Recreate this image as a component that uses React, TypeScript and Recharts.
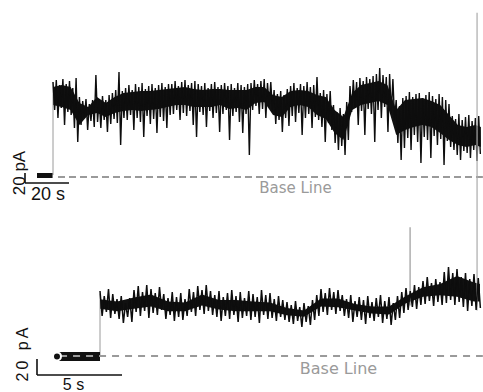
import React from 'react';
import { ComposedChart, Line, Area, XAxis, YAxis, ReferenceLine, ReferenceDot } from 'recharts';

// ---------- TOP TRACE (time in s, current in pA) ----------
// dense core of the current trace
const topCoreT = [0,4,8,12,16,20,24,28,32,36,40,44,48,52,56,60,64,68,72,76,80,84,88,92,96,100,104,108,112,116,120,124,128,132,136,140,144,148,152,156,160,164,168,172,176,180,184,188,192,194.5];
const topCoreHi = [180,184,180,148,140,160,148,160,168,170,172,172,174,176,178,180,176,174,176,176,174,174,174,180,180,164,160,172,174,172,164,160,134,120,168,184,188,192,184,134,154,156,158,152,144,124,104,100,104,100];
const topCoreLo = [144,140,134,104,124,128,120,128,132,134,132,134,136,140,144,144,140,140,140,144,136,138,134,148,150,124,120,140,144,140,124,116,88,74,134,144,148,152,144,84,94,100,104,100,88,74,64,60,64,60];

// noise extremes, sampled every 1.5 s (upper excursions) with lower excursions half-way between
const TOP_DT = 1.5;
const topUp = [190,194,184,196,186,192,178,198,160,152,156,146,154,204,156,162,154,164,168,174,210,172,178,184,174,186,180,188,176,182,186,178,184,188,180,186,186,192,182,190,194,184,188,192,186,182,188,178,186,190,180,184,188,182,186,178,188,184,180,186,188,194,186,192,196,188,190,174,166,172,164,176,182,188,178,186,182,190,180,184,200,168,174,166,172,144,130,138,126,150,182,194,190,198,192,200,196,202,206,218,204,200,206,196,154,142,158,162,170,160,166,168,158,164,170,162,156,166,160,154,146,122,116,126,114,120,124,112,118,122];
const topDown = [134,118,138,104,130,124,98,70,104,118,94,112,100,110,98,114,90,106,116,108,64,118,114,124,94,118,110,80,122,106,116,88,120,112,98,124,126,134,114,128,122,132,104,80,130,124,100,132,118,128,90,126,134,74,122,130,110,88,126,44,134,142,126,136,118,140,130,106,114,90,118,102,122,110,128,84,118,126,98,120,114,100,70,108,94,68,54,62,44,74,130,138,104,132,84,136,126,70,134,118,140,90,128,114,68,34,58,78,54,84,70,28,80,74,38,82,64,76,24,72,60,54,44,34,52,48,38,54,32,46];

const topPreT = [-7.27, -0.2];
const topPreV = [3, 3];
const topJumpT = [0, 0];
const topJumpV = [4, 190];

// ---------- BOTTOM TRACE ----------
const botCoreT = [0,1,2,3,4,5,6,7,8,9,10,11,12,13,14,15,16,17,18,19,20,21,22,22.35];
const botCoreHi = [71,68,73,77,68,67,77,70,70,68,67,60,57,72,72,65,62,62,75,86,90,100,92,90];
const botCoreLo = [59,56,59,62,56,56,63,58,56,56,56,51,49,62,61,57,53,52,66,74,76,74,68,68];

const BOT_DT = 0.25;
const botUp = [81.25,75,83.75,77.5,71.25,75,66.25,72.5,82.5,87.5,80,88.75,83.75,78.75,86.25,77.5,72.5,80,73.75,78.75,71.25,83.75,80,87.5,82.5,88.75,81.25,76.25,81.25,73.75,78.75,82.5,75,80,72.5,81.25,77.5,73.75,82.5,76.25,78.75,71.25,75,70,67.5,63.75,68.75,61.25,66.25,62.5,70,76.25,83.75,78.75,85,80,82.5,76.25,71.25,76.25,68.75,73.75,70,75,67.5,72.5,76.25,68.75,73.75,66.25,75,80,85,81.25,88.75,86.25,93.75,98.75,91.25,96.25,92.5,105,111.25,103.75,108.75,98.75,103.75,96.25,102.5,97.5];
const botDown = [50,55,47.5,52.5,46.25,41.25,48.75,42.5,55,50,56.25,47.5,53.75,51.25,57.5,46.25,51.25,43.75,48.75,45,50,55,50,57.5,52.5,56.25,51.25,48.75,43.75,50,46.25,51.25,42.5,47.5,50,45,48.75,41.25,51.25,46.25,47.5,43.75,48.75,45,42.5,40,43.75,36.25,42.5,38.75,45,50,55,51.25,57.5,52.5,56.25,50,47.5,42.5,48.75,45,40,47.5,43.75,48.75,41.25,46.25,38.75,45,47.5,53.75,57.5,61.25,58.75,63.75,65,68.75,62.5,67.5,63.75,66.25,70,63.75,67.5,61.25,56.25,62.5,57.5,60];

const botPreT = [-2.53, 0];
const botPreV = [-0.5, -0.5];
const botJumpT = [0, 0];
const botJumpV = [0, 78];
const spikeAT = [18.24, 18.24];
const spikeAV = [63, 161];
const spikeBT = [22.18, 22.18];
const spikeBV = [57, 429];

// ---------- helpers ----------
const W = 483;
const H = 392;
const TOP_X: [number, number] = [-24.0909, 195.4545];
const TOP_Y: [number, number] = [-430, 354];
const BOT_X: [number, number] = [-5.8824, 22.5294];
const BOT_Y: [number, number] = [-45, 445];

const pts = (t: number[], v: number[]) => t.map((x, i) => ({ t: x, v: v[i] }));
const band = (t: number[], lo: number[], hi: number[]) => t.map((x, i) => ({ t: x, r: [lo[i], hi[i]] }));
const zig = (dt: number, u: number[], d: number[]) => {
  const out: { t: number; v: number }[] = [];
  u.forEach((val, i) => {
    out.push({ t: i * dt, v: val });
    if (i < d.length) out.push({ t: i * dt + dt / 2, v: d[i] });
  });
  return out;
};

const txt = (value: string, font: string, size: number, fill: string, angle = 0, spacing = 0) => (props: any) => {
  const vb = props.viewBox || { x: 0, y: 0, width: 0, height: 0 };
  const cx = vb.x + (vb.width || 0) / 2;
  const cy = vb.y + (vb.height || 0) / 2;
  return (
    <text
      x={cx}
      y={cy + size * 0.355}
      textAnchor="middle"
      fontFamily={font}
      fontSize={size}
      fill={fill}
      letterSpacing={spacing}
      transform={angle ? `rotate(${angle} ${cx} ${cy})` : undefined}
    >
      {value}
    </text>
  );
};

const SANS = '"Liberation Sans", Arial, sans-serif';
const VERD = '"DejaVu Sans", Verdana, sans-serif';

export default function App() {
  const topZig = zig(TOP_DT, topUp, topDown);
  const botZig = zig(BOT_DT, botUp, botDown);
  const layer: React.CSSProperties = { position: 'absolute', left: 0, top: 0 };
  return (
    <div style={{ position: 'absolute', left: 0, top: 0, width: W, height: H, background: '#fff' }}>
      <div style={layer}>
        <ComposedChart width={W} height={H} margin={{ top: 0, right: 0, bottom: 0, left: 0 }}>
          <XAxis dataKey="t" type="number" domain={TOP_X} allowDataOverflow hide />
          <YAxis type="number" domain={TOP_Y} allowDataOverflow hide />
          <Line data={pts(topJumpT, topJumpV)} dataKey="v" stroke="#9a9a9a" strokeWidth={1} dot={false} isAnimationActive={false} />
          <Area data={band(topCoreT, topCoreLo, topCoreHi)} dataKey="r" stroke="none" fill="#111" fillOpacity={1} isAnimationActive={false} />
          <Line data={topZig} dataKey="v" stroke="#0d0d0d" strokeWidth={1.4} dot={false} isAnimationActive={false} />
          <Line data={pts(topPreT, topPreV)} dataKey="v" stroke="#111" strokeWidth={5} dot={false} isAnimationActive={false} />
          <ReferenceLine segment={[{ x: 2.27, y: 0 }, { x: 195.4, y: 0 }]} stroke="#9a9a9a" strokeWidth={2} strokeDasharray="7 4" ifOverflow="visible" />
          <ReferenceLine segment={[{ x: -12.73, y: 8 }, { x: -12.73, y: -12 }]} stroke="#111" strokeWidth={1.6} ifOverflow="visible" />
          <ReferenceLine segment={[{ x: -12.73, y: -12 }, { x: 7.27, y: -12 }]} stroke="#111" strokeWidth={1.6} ifOverflow="visible" />
          <ReferenceDot x={110.2} y={-22} r={0} fill="none" stroke="none" ifOverflow="visible" label={txt('Base Line', VERD, 15, '#9a9a9a')} />
          <ReferenceDot x={-2.27} y={-33} r={0} fill="none" stroke="none" ifOverflow="visible" label={txt('20 s', SANS, 18, '#111')} />
          <ReferenceDot x={-15.45} y={8} r={0} fill="none" stroke="none" ifOverflow="visible" label={txt('20 pA', SANS, 17, '#111', -90)} />
        </ComposedChart>
      </div>
      <div style={layer}>
        <ComposedChart width={W} height={H} margin={{ top: 0, right: 0, bottom: 0, left: 0 }}>
          <XAxis dataKey="t" type="number" domain={BOT_X} allowDataOverflow hide />
          <YAxis type="number" domain={BOT_Y} allowDataOverflow hide />
          <Line data={pts(botJumpT, botJumpV)} dataKey="v" stroke="#9a9a9a" strokeWidth={1} dot={false} isAnimationActive={false} />
          <Line data={pts(spikeAT, spikeAV)} dataKey="v" stroke="#9a9a9a" strokeWidth={1.2} dot={false} isAnimationActive={false} />
          <Line data={pts(spikeBT, spikeBV)} dataKey="v" stroke="#aaaaaa" strokeWidth={1.2} dot={false} isAnimationActive={false} />
          <Area data={band(botCoreT, botCoreLo, botCoreHi)} dataKey="r" stroke="none" fill="#111" fillOpacity={1} isAnimationActive={false} />
          <Line data={botZig} dataKey="v" stroke="#0d0d0d" strokeWidth={1.5} dot={false} isAnimationActive={false} />
          <Line data={pts(botPreT, botPreV)} dataKey="v" stroke="#111" strokeWidth={9} dot={false} isAnimationActive={false} />
          <ReferenceLine segment={[{ x: -2.35, y: 0 }, { x: 22.52, y: 0 }]} stroke="#9a9a9a" strokeWidth={2} strokeDasharray="7 6" ifOverflow="visible" />
          <ReferenceLine segment={[{ x: -3.706, y: -3.75 }, { x: -3.706, y: -23.75 }]} stroke="#111" strokeWidth={1.6} ifOverflow="visible" />
          <ReferenceLine segment={[{ x: -3.706, y: -23.75 }, { x: 1.294, y: -23.75 }]} stroke="#111" strokeWidth={1.6} ifOverflow="visible" />
          <ReferenceDot x={14.03} y={-16} r={0} fill="none" stroke="none" ifOverflow="visible" label={txt('Base Line', VERD, 16, '#9a9a9a')} />
          <ReferenceDot x={-1.56} y={-35} r={0} fill="none" stroke="none" ifOverflow="visible" label={txt('5 s', SANS, 16, '#111')} />
          <ReferenceDot x={-4.59} y={3.75} r={0} fill="none" stroke="none" ifOverflow="visible" label={txt('20 pA', SANS, 16, '#111', -90, 3)} />
        </ComposedChart>
      </div>
    </div>
  );
}
